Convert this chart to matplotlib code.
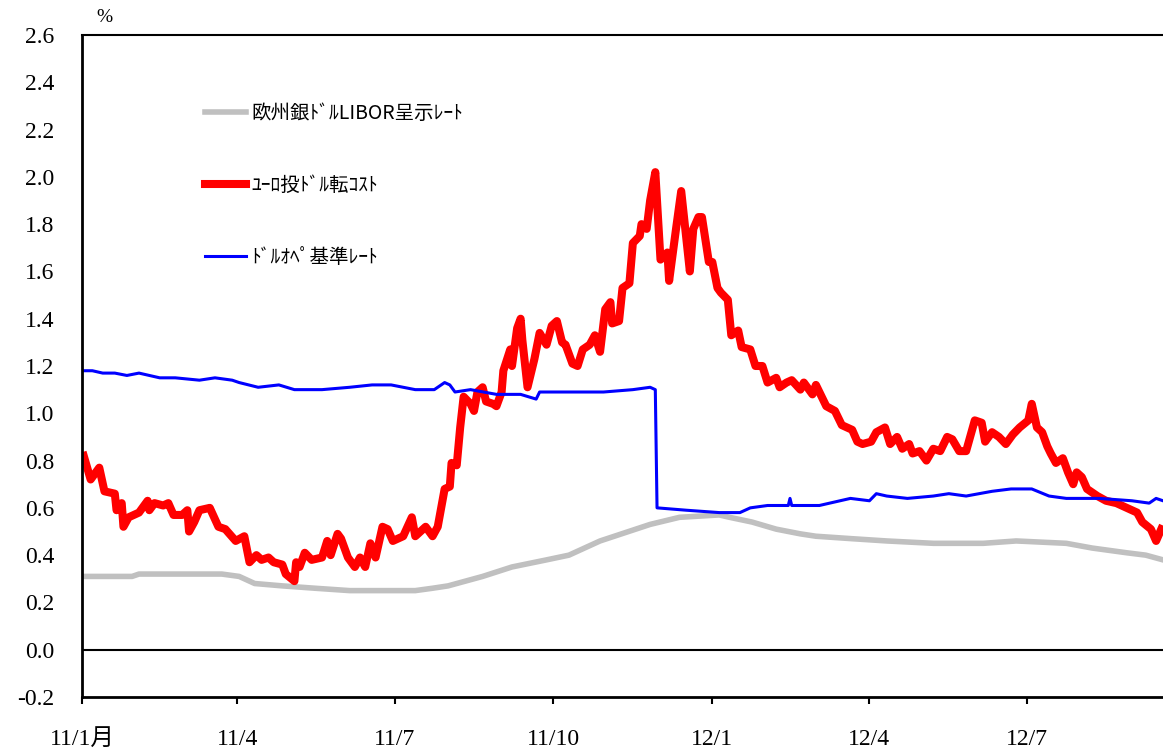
import numpy as np
import pandas as pd
import matplotlib
matplotlib.use('Agg')
import matplotlib.pyplot as plt

plt.rcParams['axes.unicode_minus'] = False

# days counted from 2011-01-01, values in %
start = pd.Timestamp('2011-01-01')

libor_day = [0, 29, 33, 81, 91, 100, 116, 135, 155, 174, 193, 203, 212, 222, 232, 249,
             269, 282, 300, 329, 346, 369, 375, 388, 402, 416, 425, 445, 466, 493, 522,
             541, 570, 585, 605, 616, 626]
libor_val = [0.31, 0.31, 0.32, 0.32, 0.31, 0.28, 0.27, 0.26, 0.25, 0.25, 0.25, 0.26, 0.27,
             0.29, 0.31, 0.35, 0.38, 0.40, 0.46, 0.53, 0.56, 0.57, 0.56, 0.54, 0.51, 0.49,
             0.48, 0.47, 0.46, 0.45, 0.45, 0.46, 0.45, 0.43, 0.41, 0.40, 0.38]

cost_day = [1, 5, 10, 13, 19, 20, 23, 24, 27, 33, 38, 39, 42, 47, 50, 53, 58, 61, 62, 65,
            68, 74, 79, 83, 89, 94, 97, 101, 104, 108, 111, 116, 118, 123, 124, 126, 129,
            133, 139, 142, 144, 148, 150, 154, 158, 161, 164, 167, 170, 174, 177, 180, 186,
            191, 193, 199, 203, 206, 208, 210, 213, 214, 217, 219, 221, 225, 227, 229, 232,
            234, 238, 240, 243, 244, 248, 249, 252, 254, 255, 258, 260, 262, 265, 269, 272,
            275, 278, 280, 284, 287, 290, 294, 297, 300, 303, 306, 307, 311, 313, 317, 319,
            323, 324, 327, 329, 332, 335, 339, 340, 344, 347, 352, 354, 357, 359, 363, 365,
            368, 370, 374, 376, 380, 382, 387, 390, 394, 397, 402, 404, 408, 411, 416, 418,
            423, 425, 431, 436, 440, 446, 449, 452, 457, 460, 465, 468, 472, 475, 479, 481,
            485, 489, 493, 497, 501, 504, 508, 512, 517, 521, 523, 527, 531, 535, 539, 543,
            548, 550, 553, 556, 559, 561, 564, 568, 571, 574, 576, 579, 582, 588, 593, 599,
            605, 611, 614, 619, 622, 625]
cost_val = [0.82, 0.72, 0.77, 0.67, 0.66, 0.59, 0.62, 0.52, 0.56, 0.58, 0.63, 0.59, 0.62,
            0.61, 0.62, 0.57, 0.57, 0.59, 0.50, 0.54, 0.59, 0.60, 0.52, 0.51, 0.46, 0.48,
            0.37, 0.40, 0.38, 0.39, 0.37, 0.36, 0.32, 0.29, 0.37, 0.35, 0.41, 0.38, 0.39,
            0.46, 0.40, 0.49, 0.47, 0.39, 0.35, 0.39, 0.35, 0.45, 0.39, 0.52, 0.51, 0.46,
            0.48, 0.56, 0.48, 0.52, 0.48, 0.52, 0.60, 0.68, 0.69, 0.79, 0.78, 0.94, 1.07,
            1.04, 1.01, 1.09, 1.11, 1.05, 1.04, 1.03, 1.09, 1.18, 1.27, 1.20, 1.36, 1.40,
            1.31, 1.11, 1.17, 1.23, 1.34, 1.29, 1.37, 1.39, 1.30, 1.29, 1.21, 1.20, 1.27,
            1.29, 1.33, 1.26, 1.44, 1.47, 1.38, 1.39, 1.53, 1.55, 1.72, 1.75, 1.80, 1.78,
            1.90, 2.02, 1.65, 1.68, 1.56, 1.78, 1.94, 1.60, 1.78, 1.83, 1.83, 1.64, 1.64,
            1.53, 1.51, 1.48, 1.33, 1.35, 1.28, 1.27, 1.20, 1.20, 1.13, 1.15, 1.11, 1.13,
            1.14, 1.10, 1.13, 1.08, 1.12, 1.03, 1.01, 0.95, 0.93, 0.88, 0.87, 0.88, 0.92,
            0.94, 0.87, 0.90, 0.85, 0.87, 0.83, 0.84, 0.80, 0.85, 0.84, 0.90, 0.89, 0.84,
            0.84, 0.97, 0.96, 0.88, 0.92, 0.90, 0.87, 0.91, 0.94, 0.97, 1.04, 0.94, 0.92,
            0.86, 0.83, 0.79, 0.81, 0.75, 0.70, 0.75, 0.73, 0.68, 0.65, 0.63, 0.62, 0.60,
            0.58, 0.54, 0.51, 0.46, 0.51]

ops_day = [0, 6, 12, 19, 26, 33, 39, 45, 54, 68, 77, 87, 91, 102, 114, 123, 139, 155, 168,
           179, 193, 204, 210, 213, 216, 225, 240, 254, 263, 265, 282, 302, 319, 329, 332,
           333, 350, 369, 381, 387, 397, 409, 410, 411, 427, 439, 445, 456, 460, 466, 478,
           493, 502, 512, 527, 538, 550, 560, 570, 589, 608, 618, 622, 626]
ops_val = [1.18, 1.18, 1.17, 1.17, 1.16, 1.17, 1.16, 1.15, 1.15, 1.14, 1.15, 1.14, 1.13,
           1.11, 1.12, 1.10, 1.10, 1.11, 1.12, 1.12, 1.10, 1.10, 1.13, 1.12, 1.09, 1.10,
           1.08, 1.08, 1.06, 1.09, 1.09, 1.09, 1.10, 1.11, 1.10, 0.60, 0.59, 0.58, 0.58,
           0.60, 0.61, 0.61, 0.64, 0.61, 0.61, 0.63, 0.64, 0.63, 0.66, 0.65, 0.64, 0.65,
           0.66, 0.65, 0.67, 0.68, 0.68, 0.65, 0.64, 0.64, 0.63, 0.62, 0.64, 0.63]

labels = ['欧州銀ﾄﾞﾙLIBOR呈示ﾚｰﾄ', 'ﾕｰﾛ投ﾄﾞﾙ転ｺｽﾄ', 'ﾄﾞﾙｵﾍﾟ基準ﾚｰﾄ']
tick_dates = ['2011-01-01', '2011-04-01', '2011-07-01', '2011-10-01',
              '2012-01-01', '2012-04-01', '2012-07-01']
tick_labels = ['11/1月', '11/4', '11/7', '11/10', '12/1', '12/4', '12/7']

def to_dates(days):
    return start + pd.to_timedelta(days, unit='D')

tick_font = ['Liberation Serif', 'Noto Sans CJK JP']
jp_font = ['Noto Sans CJK JP', 'DejaVu Sans']

fig = plt.figure(figsize=(11.63, 7.51), dpi=100)
ax = fig.add_axes([82/1163, 54/751, 1081/1163, 662/751])

ax.plot(to_dates(libor_day), libor_val, color='#c0c0c0', lw=4, label=labels[0])
ax.plot(to_dates(cost_day), cost_val, color='#ff0000', lw=5.8, label=labels[1],
        solid_joinstyle='round')
ax.plot(to_dates(ops_day), ops_val, color='#0000ff', lw=2.2, label=labels[2])
ax.axhline(0, color='black', lw=1.5, zorder=1)

ax.set_ylim(-0.2, 2.6)
ax.set_yticks(np.arange(-0.2, 2.61, 0.2))
ax.set_yticklabels([f'{v:.1f}' for v in np.arange(-0.2, 2.61, 0.2)], family=tick_font,
                   fontsize=17)
ax.set_xlim(start, start + pd.Timedelta(days=626))
ax.set_xticks(pd.to_datetime(tick_dates))
ax.set_xticklabels(tick_labels, family=tick_font, fontsize=17)

ax.tick_params(axis='y', length=0, pad=20)
ax.tick_params(axis='x', length=5, width=1.5, direction='out', pad=18)
for s in ['left', 'bottom']:
    ax.spines[s].set_linewidth(2)
ax.spines['top'].set_linewidth(1.5)
ax.spines['right'].set_visible(False)

fig.text(96/1163, 1 - 18/751, '%', family=tick_font, fontsize=14, va='center')

leg = ax.legend(loc='upper left', bbox_to_anchor=(0.114, 0.897), frameon=False,
                prop={'family': jp_font, 'size': 14}, handlelength=2.1,
                handletextpad=0.25, labelspacing=2.62, borderpad=0, borderaxespad=0)

fig.savefig('out.png', dpi=100)
